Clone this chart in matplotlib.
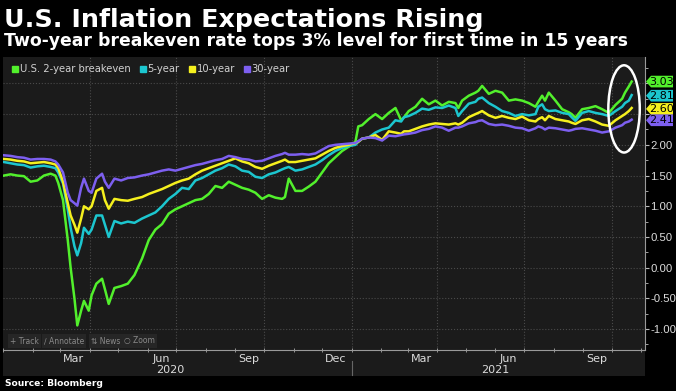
import matplotlib
matplotlib.use('Agg')
import matplotlib.pyplot as plt
import matplotlib.dates as mdates
from matplotlib.patches import Ellipse, Polygon, Rectangle
from matplotlib.lines import Line2D
from matplotlib.transforms import blended_transform_factory
import numpy as np
import pandas as pd

plt.rcParams['axes.unicode_minus'] = False

# breakeven rates
dates = pd.to_datetime([
    "2020-01-02", "2020-01-09", "2020-01-16", "2020-01-23", "2020-01-30",
    "2020-02-06", "2020-02-13", "2020-02-20", "2020-02-25", "2020-02-28",
    "2020-03-04", "2020-03-09", "2020-03-12", "2020-03-16", "2020-03-19", "2020-03-23", "2020-03-26", "2020-03-31",
    "2020-04-03", "2020-04-08", "2020-04-14", "2020-04-17", "2020-04-21", "2020-04-27",
    "2020-05-04", "2020-05-11", "2020-05-18", "2020-05-26",
    "2020-06-02", "2020-06-09", "2020-06-16", "2020-06-23", "2020-06-30",
    "2020-07-07", "2020-07-14", "2020-07-21", "2020-07-28",
    "2020-08-04", "2020-08-11", "2020-08-18", "2020-08-25",
    "2020-09-01", "2020-09-08", "2020-09-15", "2020-09-22", "2020-09-29",
    "2020-10-06", "2020-10-13", "2020-10-20", "2020-10-23", "2020-10-27",
    "2020-11-03", "2020-11-10", "2020-11-17", "2020-11-24",
    "2020-12-01", "2020-12-08", "2020-12-15", "2020-12-22", "2020-12-29",
    "2021-01-05", "2021-01-08", "2021-01-12", "2021-01-19", "2021-01-26",
    "2021-02-02", "2021-02-09", "2021-02-16", "2021-02-22", "2021-02-25",
    "2021-03-02", "2021-03-09", "2021-03-16", "2021-03-23", "2021-03-30",
    "2021-04-06", "2021-04-13", "2021-04-20", "2021-04-23", "2021-04-27",
    "2021-05-04", "2021-05-11", "2021-05-14", "2021-05-18", "2021-05-25",
    "2021-06-01", "2021-06-08", "2021-06-15", "2021-06-22", "2021-06-29",
    "2021-07-06", "2021-07-13", "2021-07-16", "2021-07-20", "2021-07-23", "2021-07-27",
    "2021-08-03", "2021-08-10", "2021-08-17", "2021-08-20", "2021-08-24", "2021-08-31",
    "2021-09-07", "2021-09-14", "2021-09-21", "2021-09-28",
    "2021-10-05", "2021-10-12", "2021-10-15", "2021-10-19", "2021-10-22",
])

two_year = [
    1.50, 1.52, 1.50, 1.49, 1.40,
    1.42, 1.50, 1.53, 1.50, 1.38,
    1.10, 0.45, 0.00, -0.50, -0.94, -0.70, -0.54, -0.70,
    -0.45, -0.26, -0.18, -0.35, -0.59, -0.33,
    -0.30, -0.26, -0.12, 0.15,
    0.45, 0.62, 0.71, 0.88, 0.95,
    1.00, 1.05, 1.10, 1.12,
    1.20, 1.33, 1.30, 1.40,
    1.35, 1.30, 1.27, 1.22, 1.12,
    1.18, 1.14, 1.12, 1.15, 1.45,
    1.25, 1.25, 1.32, 1.40,
    1.55, 1.70, 1.80, 1.90, 1.97,
    2.05, 2.30, 2.32, 2.42, 2.50,
    2.42, 2.52, 2.60, 2.40, 2.45,
    2.55, 2.62, 2.75, 2.66, 2.72,
    2.64, 2.70, 2.68, 2.60, 2.72,
    2.80, 2.85, 2.88, 2.96, 2.83,
    2.88, 2.85, 2.72, 2.74, 2.72,
    2.68, 2.62, 2.70, 2.80, 2.72, 2.85,
    2.72, 2.58, 2.53, 2.50, 2.44, 2.58,
    2.60, 2.63, 2.58, 2.52,
    2.65, 2.75, 2.85, 2.95, 3.03,
]
five_year = [
    1.72, 1.70, 1.68, 1.67, 1.63,
    1.65, 1.66, 1.64, 1.62, 1.55,
    1.37, 0.95, 0.65, 0.35, 0.20, 0.40, 0.65, 0.55,
    0.62, 0.85, 0.85, 0.70, 0.50, 0.76,
    0.72, 0.75, 0.73, 0.80,
    0.85, 0.90, 1.00, 1.12, 1.20,
    1.30, 1.28, 1.42, 1.46,
    1.52, 1.58, 1.62, 1.68,
    1.65, 1.58, 1.56, 1.48, 1.46,
    1.52, 1.55, 1.60, 1.62, 1.64,
    1.58, 1.60, 1.64, 1.68,
    1.75, 1.83, 1.90, 1.95, 1.98,
    2.00, 2.05, 2.10, 2.12, 2.20,
    2.25, 2.28, 2.40, 2.38, 2.45,
    2.47, 2.52, 2.59, 2.57, 2.61,
    2.60, 2.64, 2.60, 2.47, 2.55,
    2.67, 2.70, 2.75, 2.77, 2.68,
    2.62, 2.55, 2.52, 2.47, 2.50,
    2.48, 2.50, 2.62, 2.66, 2.58, 2.55,
    2.56, 2.52, 2.50, 2.45, 2.39, 2.52,
    2.55, 2.52, 2.50, 2.47,
    2.55, 2.62, 2.68, 2.72, 2.81,
]
ten_year = [
    1.77, 1.76, 1.74, 1.73, 1.70,
    1.71, 1.72, 1.70, 1.68, 1.62,
    1.40, 1.05, 0.85, 0.70, 0.57, 0.80, 1.00, 0.95,
    1.00, 1.25, 1.30, 1.10, 0.96, 1.12,
    1.10, 1.09, 1.12, 1.15,
    1.20, 1.24, 1.28, 1.33, 1.38,
    1.42, 1.45, 1.52, 1.58,
    1.62, 1.66, 1.70, 1.74,
    1.78, 1.73, 1.70, 1.64, 1.61,
    1.66, 1.70, 1.74, 1.76, 1.72,
    1.72, 1.74, 1.76, 1.78,
    1.84, 1.90, 1.95, 1.98, 2.00,
    2.03, 2.05, 2.10, 2.12, 2.16,
    2.08, 2.22, 2.20, 2.18, 2.22,
    2.22, 2.26, 2.30, 2.33, 2.35,
    2.34, 2.33, 2.35, 2.33, 2.36,
    2.45, 2.50, 2.52, 2.55, 2.48,
    2.44, 2.47, 2.44, 2.42, 2.46,
    2.40, 2.38, 2.42, 2.45, 2.40, 2.47,
    2.42, 2.40, 2.38, 2.36, 2.34, 2.40,
    2.42, 2.38, 2.33, 2.31,
    2.40, 2.47, 2.50, 2.55, 2.60,
]
thirty_year = [
    1.83, 1.82, 1.80, 1.79, 1.76,
    1.77, 1.77, 1.76, 1.73, 1.68,
    1.55, 1.22, 1.10, 1.05, 1.01, 1.30, 1.45, 1.25,
    1.22, 1.45, 1.53, 1.40, 1.30, 1.45,
    1.42, 1.46, 1.47, 1.50,
    1.52, 1.55, 1.58, 1.60, 1.58,
    1.61, 1.64, 1.67, 1.69,
    1.72, 1.75, 1.77, 1.82,
    1.80, 1.77, 1.76, 1.73, 1.74,
    1.78, 1.82, 1.85, 1.87, 1.84,
    1.84, 1.85, 1.84, 1.86,
    1.92, 1.98, 2.00, 2.01, 2.02,
    2.03, 2.06, 2.10, 2.12, 2.11,
    2.07, 2.15, 2.14, 2.16, 2.17,
    2.18, 2.20, 2.24, 2.26, 2.30,
    2.28, 2.23, 2.28, 2.28, 2.30,
    2.35, 2.37, 2.39, 2.40, 2.34,
    2.32, 2.33, 2.31, 2.28, 2.27,
    2.23, 2.27, 2.30, 2.28, 2.25, 2.28,
    2.27, 2.25, 2.23, 2.24, 2.26, 2.27,
    2.25, 2.23, 2.20, 2.22,
    2.28, 2.32, 2.36, 2.38, 2.41,
]

names = ["U.S. 2-year breakeven", "5-year", "10-year", "30-year"]
series = [two_year, five_year, ten_year, thirty_year]
colors = ["#52f02c", "#1cc6cf", "#f5f01e", "#7d5ff0"]
last_labels = ["3.03", "2.81", "2.60", "2.41"]

month_labels = ["Mar", "Jun", "Sep", "Dec", "Mar", "Jun", "Sep"]
month_label_dates = pd.to_datetime(["2020-03-15", "2020-06-15", "2020-09-15", "2020-12-15",
                                    "2021-03-15", "2021-06-15", "2021-09-15"])
year_labels = ["2020", "2021"]
year_label_dates = pd.to_datetime(["2020-06-25", "2021-06-01"])
quarter_lines = pd.to_datetime(["2020-04-01", "2020-07-01", "2020-10-01", "2021-01-01",
                                "2021-04-01", "2021-07-01", "2021-10-01"])

W, H = 676, 391
fig = plt.figure(figsize=(W / 100, H / 100), dpi=100, facecolor='black')
ax = fig.add_axes([3 / W, 41 / H, 642 / W, 293 / H])
ax.set_facecolor('#1b1b1b')

# dark band behind the date labels
fig.patches.append(Rectangle((3 / W, 15 / H), 642 / W, 26 / H, transform=fig.transFigure,
                             facecolor='#1b1b1b', edgecolor='none', zorder=-5))

for vals, c in zip(series, colors):
    ax.plot(dates, vals, color=c, lw=1.8, solid_joinstyle='round', zorder=3)

ax.set_xlim(pd.Timestamp("2020-01-01"), pd.Timestamp("2021-11-05"))
ax.set_ylim(-1.34, 3.43)

# grid
ax.set_yticks(np.arange(-1.0, 3.01, 0.5))
ax.set_yticks(np.arange(-1.25, 3.3, 0.25), minor=True)
ax.grid(axis='y', which='major', color='#4a4a4a', ls=':', lw=0.8)
for d in quarter_lines:
    ax.axvline(d, color='#4a4a4a', ls=':', lw=0.8, zorder=1)

# right axis
ax.yaxis.tick_right()
ax.yaxis.set_major_formatter(plt.FuncFormatter(lambda v, p: '%.2f' % v if v < 2.01 else ''))
ax.tick_params(axis='y', which='major', colors='#bbbbbb', labelcolor='#dcdcdc',
               labelsize=8.2, length=3, pad=1)
ax.tick_params(axis='y', which='minor', colors='#bbbbbb', length=2)
plt.setp(ax.get_yticklabels(), family='Liberation Sans')

# bottom axis
ax.set_xticks(month_label_dates)
ax.set_xticklabels(month_labels)
ax.xaxis.set_minor_locator(mdates.MonthLocator())
ax.tick_params(axis='x', which='major', length=0, labelcolor='#dcdcdc', labelsize=8, pad=3)
ax.tick_params(axis='x', which='minor', length=3, direction='inout', colors='#aaaaaa')

for s in ['top', 'left']:
    ax.spines[s].set_visible(False)
for s in ['bottom', 'right']:
    ax.spines[s].set_color('#9a9a9a')
    ax.spines[s].set_linewidth(0.8)

xt = blended_transform_factory(ax.transData, fig.transFigure)
for lab, d in zip(year_labels, year_label_dates):
    fig.text(mdates.date2num(d), 21 / H, lab, transform=xt, ha='center', va='center',
             color='#dcdcdc', fontsize=8)
fig.add_artist(Line2D([mdates.date2num(pd.Timestamp("2021-01-01"))] * 2, [16 / H, 30 / H],
                      transform=xt, color='#666666', lw=0.8))

# end-value tags
tt = blended_transform_factory(fig.transFigure, ax.transData)
tag_pos = [3.03, 2.80, 2.585, 2.40]
hh = 0.095
for lab, c, v in zip(last_labels, colors, tag_pos):
    pts = [(646 / W, v), (651 / W, v + hh), (673 / W, v + hh), (673 / W, v - hh), (651 / W, v - hh)]
    ax.add_patch(Polygon(pts, closed=True, transform=tt, facecolor=c, edgecolor='none',
                         clip_on=False, zorder=5))
    ax.text(662 / W, v, lab, transform=tt, ha='center', va='center', fontsize=8,
            color='black', clip_on=False, zorder=6)

# circle around the recent jump
ax.add_patch(Ellipse((mdates.date2num(pd.Timestamp("2021-10-14")), 2.585), 33, 1.42,
                     fill=False, edgecolor='white', lw=1.8, zorder=4, clip_on=False))

# legend
handles = [Line2D([], [], marker='s', ls='none', color=c, markersize=4.5) for c in colors]
leg = ax.legend(handles, names, loc='upper left', ncol=4, frameon=False, fontsize=7.2,
                handletextpad=0.0, columnspacing=0.8, borderaxespad=0.35, handlelength=0.9,
                bbox_to_anchor=(0.0, 1.0))
for t in leg.get_texts():
    t.set_color('#d0d0d0')

# bloomberg toolbar
for xp, lab in zip([10, 44, 91, 124], ["+ Track", "\u2215 Annotate", "\u21c5 News", "\u25cb Zoom"]):
    fig.text(xp / W, (H - 341) / H, lab, color='#8a8a8a', fontsize=5.5, va='center',
             bbox=dict(facecolor='#262626', edgecolor='none', pad=1.5))

fig.text(4 / W, (H - 27) / H, "U.S. Inflation Expectations Rising", color='white',
         fontsize=18.3, fontweight='bold', va='baseline')
fig.text(4 / W, (H - 46) / H, "Two-year breakeven rate tops 3% level for first time in 15 years",
         color='white', fontsize=12.4, fontweight='bold', va='baseline')
fig.text(5 / W, (H - 383) / H, "Source: Bloomberg", color='white', fontsize=6.6,
         fontweight='bold', va='center')

fig.savefig('out.png', dpi=100, facecolor='black')
